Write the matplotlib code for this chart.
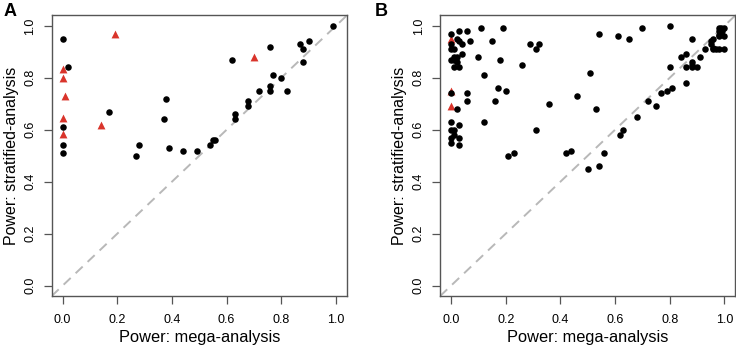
import matplotlib
matplotlib.use("Agg")
import matplotlib.pyplot as plt

plt.rcParams['font.family'] = ['Liberation Sans', 'DejaVu Sans']

# Panel A: power of mega-analysis (x) vs stratified analysis (y)
a_black_x = [0.0, 0.02, 0.0, 0.0, 0.0, 0.17, 0.27, 0.28, 0.38, 0.37, 0.39, 0.44, 0.49,
             0.54, 0.55, 0.557, 0.63, 0.63, 0.62, 0.68, 0.68, 0.72, 0.76, 0.77, 0.76,
             0.76, 0.80, 0.82, 0.87, 0.88, 0.90, 0.88, 0.99]
a_black_y = [0.95, 0.84, 0.61, 0.54, 0.51, 0.67, 0.50, 0.54, 0.72, 0.64, 0.53, 0.52, 0.52,
             0.54, 0.56, 0.56, 0.66, 0.64, 0.87, 0.71, 0.69, 0.75, 0.92, 0.81, 0.77,
             0.75, 0.80, 0.75, 0.93, 0.91, 0.94, 0.86, 1.00]
a_red_x = [0.19, 0.0, 0.0, 0.01, 0.0, 0.14, 0.0, 0.70]
a_red_y = [0.97, 0.835, 0.80, 0.73, 0.645, 0.62, 0.585, 0.88]

# Panel B
b_black_x = [0.0, 0.03, 0.06, 0.11, 0.19, 0.02, 0.03, 0.04, 0.07, 0.15,
             0.0, 0.0, 0.01, 0.04, 0.10, 0.18, 0.0, 0.01, 0.02, 0.01, 0.02, 0.01, 0.03,
             0.12, 0.0, 0.06, 0.17, 0.20, 0.06, 0.16, 0.02, 0.0, 0.12, 0.03,
             0.0, 0.01, 0.01, 0.0, 0.03, 0.0, 0.03,
             0.26, 0.29, 0.32, 0.31, 0.31, 0.21, 0.23, 0.36, 0.42, 0.44, 0.46, 0.51,
             0.50, 0.53, 0.54, 0.56, 0.54, 0.61, 0.65, 0.70, 0.62, 0.63, 0.68, 0.72,
             0.75, 0.77, 0.79, 0.81,
             0.80, 0.88, 0.98, 0.99, 0.98, 0.96, 0.95, 0.96, 0.98, 0.93, 0.84, 0.86,
             0.91, 0.80, 0.86, 0.88, 0.88, 0.90, 0.86, 0.88, 0.97, 0.96, 0.999,
             0.979, 0.989, 0.999, 0.979, 0.989, 0.999, 0.95]
b_black_y = [0.97, 0.98, 0.98, 0.99, 0.99, 0.95, 0.94, 0.93, 0.94, 0.94,
             0.93, 0.91, 0.91, 0.89, 0.88, 0.87, 0.87, 0.88, 0.88, 0.87, 0.86, 0.84, 0.84,
             0.81, 0.74, 0.74, 0.76, 0.75, 0.71, 0.71, 0.68, 0.63, 0.63, 0.62,
             0.60, 0.60, 0.58, 0.57, 0.57, 0.55, 0.54,
             0.85, 0.93, 0.93, 0.91, 0.60, 0.50, 0.51, 0.70, 0.51, 0.52, 0.73, 0.82,
             0.45, 0.68, 0.46, 0.51, 0.97, 0.96, 0.95, 0.99, 0.58, 0.60, 0.65, 0.71,
             0.69, 0.74, 0.75, 0.76,
             1.00, 0.95, 0.99, 0.98, 0.965, 0.95, 0.93, 0.915, 0.91, 0.91, 0.88, 0.89,
             0.88, 0.84, 0.84, 0.85, 0.84, 0.84, 0.78, 0.86, 0.91, 0.91, 0.91,
             0.98, 0.99, 0.99, 0.96, 0.97, 0.96, 0.94]
b_red_x = [0.0, 0.0, 0.0]
b_red_y = [0.95, 0.75, 0.69]

ticks = [0.0, 0.2, 0.4, 0.6, 0.8, 1.0]
tick_labels = ['0.0', '0.2', '0.4', '0.6', '0.8', '1.0']
red = '#D9342B'
edge = '#555555'

fig = plt.figure(figsize=(7.36, 3.52), dpi=100)
ax_a = fig.add_axes([0.0702, 0.159, 0.401, 0.797])
ax_b = fig.add_axes([0.598, 0.159, 0.401, 0.797])

panels = [(ax_a, 'A', -0.162, a_black_x, a_black_y, a_red_x, a_red_y),
          (ax_b, 'B', -0.22, b_black_x, b_black_y, b_red_x, b_red_y)]

for ax, letter, lx, bx, by, rx, ry in panels:
    ax.axline((0, 0), (1, 1), color='#B8B8B8', lw=1.4, ls=(0, (5, 3.5)), zorder=1)
    ax.scatter(rx, ry, marker='^', s=32, color=red, linewidths=0, zorder=2)
    ax.scatter(bx, by, marker='o', s=22, color='black', linewidths=0, zorder=3)
    ax.set_xlim(-0.04, 1.04)
    ax.set_ylim(-0.04, 1.04)
    ax.set_xticks(ticks)
    ax.set_xticklabels(tick_labels)
    ax.set_yticks(ticks)
    ax.set_yticklabels(tick_labels, rotation=90, va='center')
    ax.tick_params(direction='out', length=6, width=0.9, color=edge, labelsize=9)
    ax.tick_params(axis='x', pad=7)
    ax.tick_params(axis='y', pad=5)
    for sp in ax.spines.values():
        sp.set_color(edge)
        sp.set_linewidth(1.0)
    ax.set_xlabel('Power: mega-analysis', fontsize=11.8, labelpad=3)
    ax.set_ylabel('Power: stratified-analysis', fontsize=11.5, labelpad=4)
    ax.text(lx, 1.045, letter, transform=ax.transAxes, fontsize=13, fontweight='bold',
            va='top', ha='left')

fig.savefig('out.png', dpi=100)
